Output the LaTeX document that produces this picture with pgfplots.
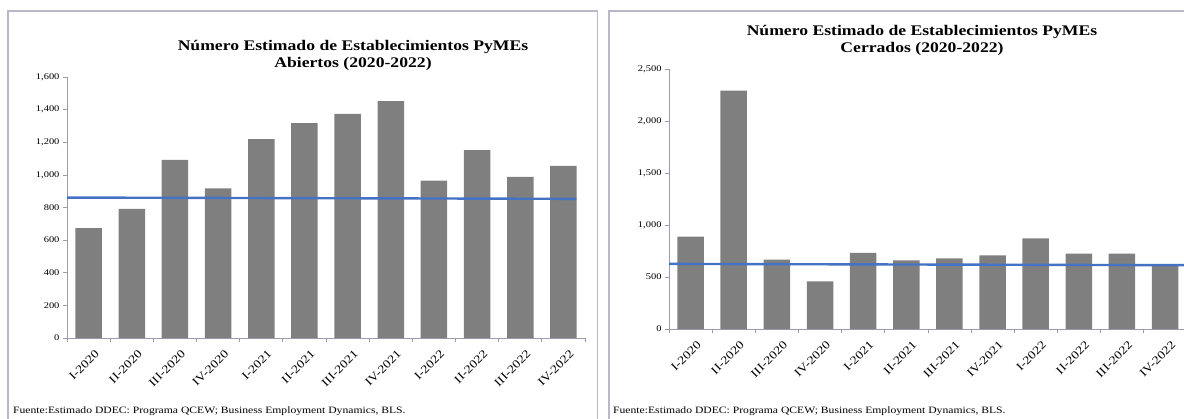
\documentclass[border=0pt]{standalone}
\usepackage{fontspec}
\setmainfont{Liberation Serif}[FakeStretch=1.2]
\usepackage{pgfplots}
\pgfplotsset{compat=1.18}
\definecolor{barg}{HTML}{7F7F7F}
\definecolor{lineb}{HTML}{4472C4}
\definecolor{framec}{HTML}{B8B8C8}
\definecolor{axg}{HTML}{9C9CB0}
\pgfplotsset{
  panel/.style={
    scale only axis,
    ymin=0, xmin=-0.5, xmax=11.5,
    axis x line*=bottom, axis y line*=left,
    axis line style={axg, line width=0.8pt, -},
    xtick={0,...,11},
    xticklabels={I-2020,II-2020,III-2020,IV-2020,I-2021,II-2021,III-2021,IV-2021,I-2022,II-2022,III-2022,IV-2022},
    x tick label style={rotate=45, anchor=north east, font=\fontsize{11.5}{12}\selectfont, inner sep=1pt, yshift=-8pt, xshift=0pt},
    major x tick style={draw=none},
    minor xtick={-0.5,0.5,...,11.5},
    minor tick length=4pt, major tick length=4pt,
    tick align=outside,
    every tick/.style={axg, line width=0.7pt},
    y tick label style={font=\fontsize{8.7}{9}\selectfont},
    /pgf/number format/1000 sep={,},
    /pgf/number format/assume math mode=true,
    clip=false,
  }
}
\begin{document}
\begin{tikzpicture}[x=1pt,y=1pt]
\useasboundingbox (0,0) rectangle (1184,418);
\begin{scope}
\clip (0,0) rectangle (1184,418);
\draw[framec, line width=1.2pt] (8,-5) -- (8,407) -- (597.5,407) -- (597.5,-5);
\draw[framec, line width=1.2pt] (609,-5) -- (609,407) -- (1200,407);

\begin{axis}[panel, at={(67pt,80pt)}, anchor=south west, width=518pt, height=261pt,
  ymax=1600, ytick={0,200,...,1600}]
\addplot[ybar, bar width=26.5pt, fill=barg, draw=none] coordinates {
(0,673) (1,792) (2,1092) (3,918) (4,1219) (5,1317) (6,1374) (7,1452) (8,965) (9,1151) (10,988) (11,1055)};
\addplot[lineb, line width=2.4pt] coordinates {(-0.5,861) (11.3,853)};
\end{axis}

\begin{axis}[panel, at={(669pt,89pt)}, anchor=south west, width=517.7pt, height=260pt,
  ymax=2500, ytick={0,500,...,2500}]
\addplot[ybar, bar width=26.5pt, fill=barg, draw=none] coordinates {
(0,888) (1,2292) (2,667) (3,457) (4,731) (5,661) (6,680) (7,709) (8,872) (9,725) (10,725) (11,622)};
\addplot[lineb, line width=2.4pt] coordinates {(-0.5,626) (11.9,613)};
\end{axis}

\node[align=center, font=\bfseries\fontsize{14.7}{17}\selectfont] at (353,362.5)
  {Número Estimado de Establecimientos PyMEs\\Abiertos (2020-2022)};
\node[align=center, font=\bfseries\fontsize{14.7}{17}\selectfont] at (922,377.5)
  {Número Estimado de Establecimientos PyMEs\\Cerrados (2020-2022)};
\node[anchor=west, font=\fontsize{9.7}{10}\selectfont, inner sep=0pt] at (13,7)
  {Fuente:Estimado DDEC: Programa QCEW; Business Employment Dynamics, BLS.};
\node[anchor=west, font=\fontsize{9.7}{10}\selectfont, inner sep=0pt] at (613,7)
  {Fuente:Estimado DDEC: Programa QCEW; Business Employment Dynamics, BLS.};
\end{scope}
\end{tikzpicture}
\end{document}
